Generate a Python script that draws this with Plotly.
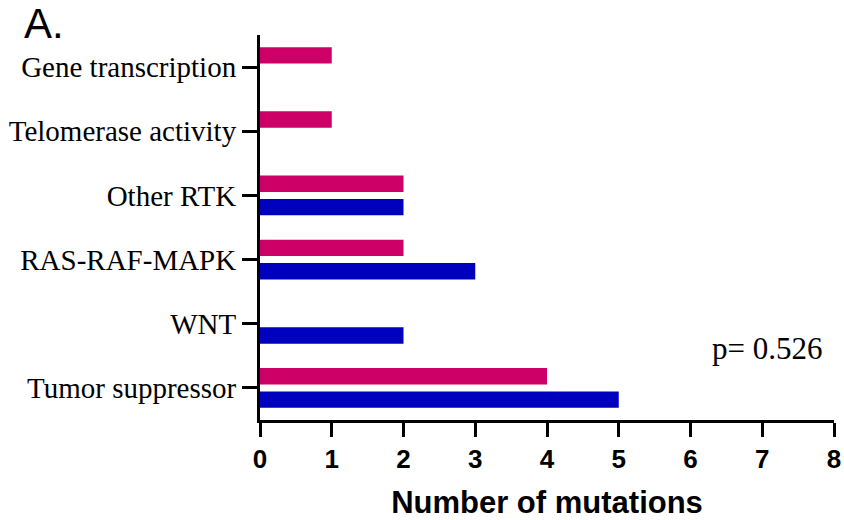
import plotly.graph_objects as go

# Pathway categories, listed bottom to top
categories = ["Tumor suppressor", "WNT", "RAS-RAF-MAPK", "Other RTK",
              "Telomerase activity", "Gene transcription"]
blue_values = [5, 2, 3, 2, 0, 0]
pink_values = [4, 0, 2, 2, 1, 1]
x_ticks = [0, 1, 2, 3, 4, 5, 6, 7, 8]
p_text = "p= 0.526"

BLUE = "#0000BF"
PINK = "#CC0066"

PLOT_W = 844 - 260 - 10
PLOT_H = 520 - 35 - 100

fig = go.Figure()
fig.add_trace(go.Bar(y=categories, x=blue_values, orientation="h",
                     marker=dict(color=BLUE, line=dict(width=0)), name="blue"))
fig.add_trace(go.Bar(y=categories, x=pink_values, orientation="h",
                     marker=dict(color=PINK, line=dict(width=0)), name="pink"))

fig.update_layout(
    width=844, height=520,
    margin=dict(l=260, r=10, t=35, b=100),
    paper_bgcolor="white", plot_bgcolor="white",
    showlegend=False,
    barmode="group", bargap=0.27, bargroupgap=0.3,
    xaxis=dict(
        range=[0, 8], tickvals=x_ticks, ticktext=[str(v) for v in x_ticks],
        automargin=False,
        showgrid=False, zeroline=False,
        showline=True, linecolor="black", linewidth=3,
        ticks="outside", ticklen=14, tickwidth=3, tickcolor="black",
        tickfont=dict(family="Liberation Sans", size=26, color="black", weight="bold"),
        title=dict(text="Number of mutations", standoff=20,
                   font=dict(family="Liberation Sans", size=31, color="black", weight="bold")),
    ),
    yaxis=dict(
        type="category", categoryorder="array", categoryarray=categories,
        range=[-0.5, 5.5], automargin=False,
        showgrid=False, zeroline=False,
        showline=True, linecolor="black", linewidth=3,
        ticks="outside", ticklen=15, tickwidth=3, tickcolor="black",
        tickfont=dict(family="Liberation Serif", size=29, color="black"),
    ),
    annotations=[
        dict(text="A.", xref="paper", yref="paper", x=-(260 - 22) / PLOT_W, y=1 + 37 / PLOT_H,
             xanchor="left", yanchor="top", showarrow=False,
             font=dict(family="Liberation Sans", size=42, color="black")),
        dict(text=p_text, xref="paper", yref="paper", x=1.0 - 10 / PLOT_W, y=(420 - 348) / PLOT_H,
             xanchor="right", yanchor="middle", showarrow=False,
             font=dict(family="Liberation Serif", size=31, color="black")),
    ],
)

fig.write_html("out.html")
